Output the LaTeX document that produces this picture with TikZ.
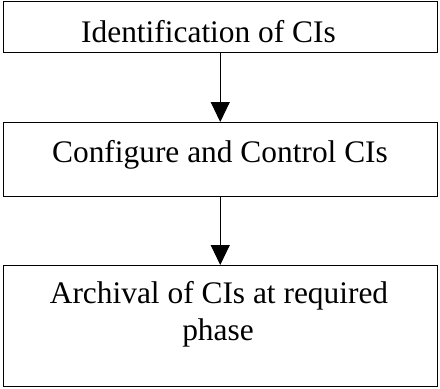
\documentclass[tikz,border=0pt]{standalone}
\usepackage{fontspec}
\setmainfont{Liberation Serif}
\usetikzlibrary{arrows.meta}
\begin{document}
\begin{tikzpicture}[x=1pt,y=-1pt,
  stagebox/.style={draw=black,line width=1pt,rectangle,minimum width=433.5pt,inner sep=0pt,outer sep=0pt},
  stagetext/.style={anchor=base,inner sep=0pt,font=\fontsize{31.4}{37}\selectfont},
  flow/.style={draw=black,line width=1pt,-{Triangle[length=20pt,width=19pt]}}]
  \useasboundingbox (0,0) rectangle (440,389);
  \node[stagebox,minimum height=50.5pt] (b1) at (220.25,26.75) {};
  \node[stagebox,minimum height=74pt] (b2) at (220.25,159) {};
  \node[stagebox,minimum height=121.5pt] (b3) at (220.25,325.75) {};
  \node[stagetext] (t1) at (208.5,42) {Identification of CIs};
  \node[stagetext] (t2) at (220,162) {Configure and Control CIs};
  \node[stagetext] (t3a) at (219,303) {Archival of CIs at required};
  \node[stagetext] (t3b) at (218,340) {phase};
  \draw[flow] (b1.south) -- (b2.north);
  \draw[flow] (b2.south) -- (b3.north);
\end{tikzpicture}
\end{document}
